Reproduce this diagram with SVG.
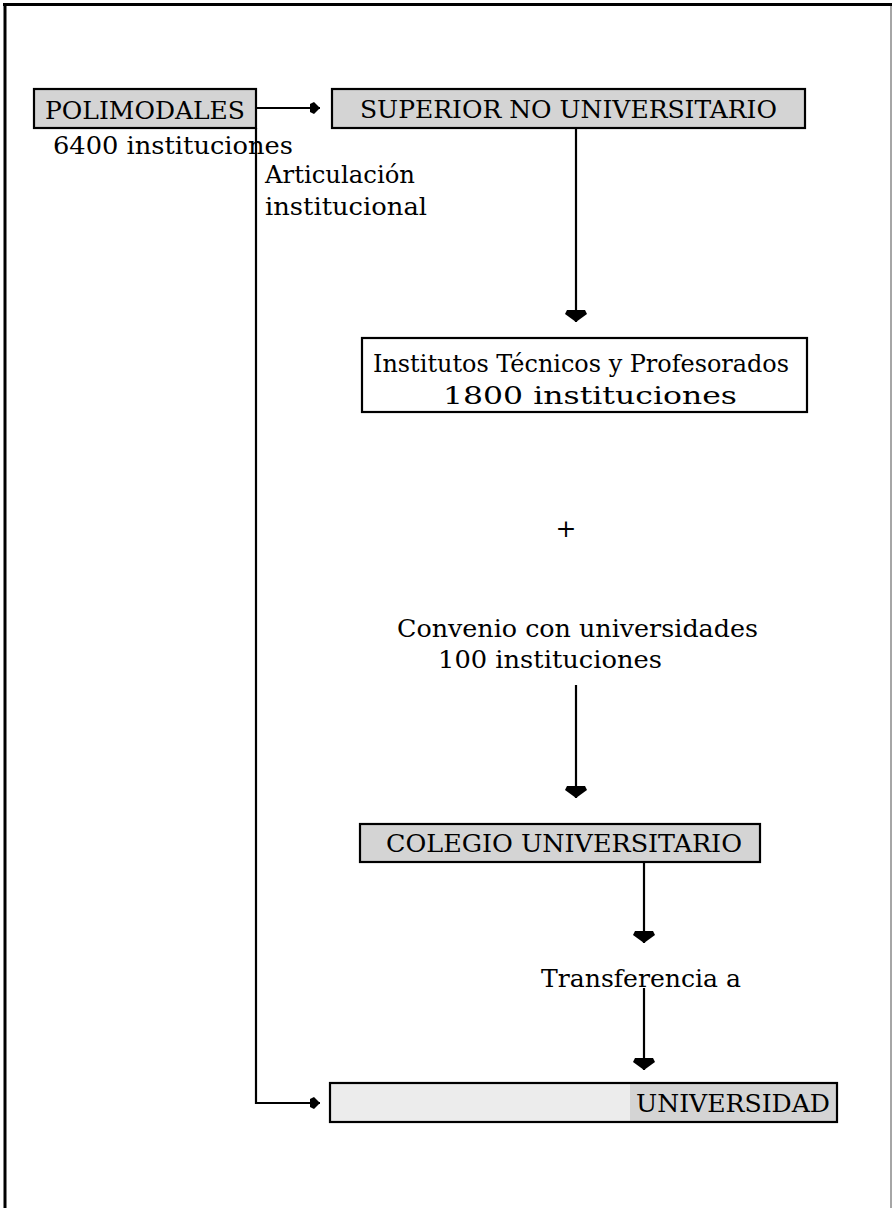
<svg xmlns="http://www.w3.org/2000/svg" width="893" height="1208" viewBox="0 0 893 1208">
<style>
.box{fill:#d4d4d4;stroke:#000;stroke-width:2.2}
.wbox{fill:#fff;stroke:#000;stroke-width:2.2}
.t{font-family:"DejaVu Serif","Liberation Serif",serif;font-size:25px;fill:#000}
.c{fill:none;stroke:#000;stroke-width:2.2}
</style>
<defs>
<marker id="big" markerUnits="userSpaceOnUse" markerWidth="30" markerHeight="30" viewBox="-15 -15 30 30" refX="12" refY="0" orient="auto" overflow="visible">
<polygon points="0,-9 4,-11 12,0 4,11 0,9" fill="#000"/>
</marker>
<marker id="small" markerUnits="userSpaceOnUse" markerWidth="20" markerHeight="20" viewBox="-10 -10 20 20" refX="10" refY="0" orient="auto" overflow="visible">
<polygon points="0,-4 4,-6 10,0 4,6 0,4" fill="#000"/>
</marker>
</defs>
<rect width="893" height="1208" fill="#fff"/>
<g id="frame">
<line x1="3" y1="4.5" x2="892" y2="4.5" stroke="#000" stroke-width="3"/>
<line x1="5" y1="3" x2="5" y2="1208" stroke="#000" stroke-width="3"/>
<line x1="891" y1="6" x2="891" y2="1208" stroke="#888" stroke-width="1.5"/>
</g>
<g id="connectors">
<line class="c" x1="256" y1="108" x2="320" y2="108" marker-end="url(#small)"/>
<path class="c" d="M256,128 V1103 H320" marker-end="url(#small)"/>
<line class="c" x1="576" y1="128" x2="576" y2="322" marker-end="url(#big)"/>
<line class="c" x1="576" y1="685" x2="576" y2="798" marker-end="url(#big)"/>
<line class="c" x1="644" y1="862" x2="644" y2="943" marker-end="url(#big)"/>
<line class="c" x1="644" y1="988" x2="644" y2="1070" marker-end="url(#big)"/>
</g>
<g id="polimodales">
<rect class="box" x="34" y="89" width="222" height="39"/>
<text class="t" x="45" y="119" textLength="200" lengthAdjust="spacingAndGlyphs">POLIMODALES</text>
<text class="t" x="53" y="154" textLength="240" lengthAdjust="spacingAndGlyphs">6400 instituciones</text>
</g>
<g id="articulacion">
<text class="t" x="265" y="183" textLength="150" lengthAdjust="spacingAndGlyphs">Articulación</text>
<text class="t" x="265" y="215" textLength="162" lengthAdjust="spacingAndGlyphs">institucional</text>
</g>
<g id="superior">
<rect class="box" x="332" y="89" width="473" height="39"/>
<text class="t" x="360" y="118" textLength="417" lengthAdjust="spacingAndGlyphs">SUPERIOR NO UNIVERSITARIO</text>
</g>
<g id="institutos">
<rect class="wbox" x="362" y="338" width="445" height="74"/>
<text class="t" x="373" y="372" textLength="416" lengthAdjust="spacingAndGlyphs">Institutos Técnicos y Profesorados</text>
<text class="t" x="443" y="404" textLength="294" lengthAdjust="spacingAndGlyphs">1800 instituciones</text>
</g>
<g id="plus">
<text class="t" x="566" y="537" text-anchor="middle">+</text>
</g>
<g id="convenio">
<text class="t" x="397" y="637" textLength="361" lengthAdjust="spacingAndGlyphs">Convenio con universidades</text>
<text class="t" x="438" y="668" textLength="224" lengthAdjust="spacingAndGlyphs">100 instituciones</text>
</g>
<g id="colegio">
<rect class="box" x="360" y="824" width="400" height="38"/>
<text class="t" x="386" y="852" textLength="356" lengthAdjust="spacingAndGlyphs">COLEGIO UNIVERSITARIO</text>
</g>
<g id="transferencia">
<text class="t" x="541" y="987" textLength="200" lengthAdjust="spacingAndGlyphs">Transferencia a</text>
</g>
<g id="universidad">
<rect x="330" y="1083" width="507" height="39" fill="#ececec"/>
<rect x="630" y="1083" width="207" height="39" fill="#d4d4d4"/>
<rect x="330" y="1083" width="507" height="39" fill="none" stroke="#000" stroke-width="2.2"/>
<text class="t" x="636" y="1112" textLength="194" lengthAdjust="spacingAndGlyphs">UNIVERSIDAD</text>
</g>
</svg>
